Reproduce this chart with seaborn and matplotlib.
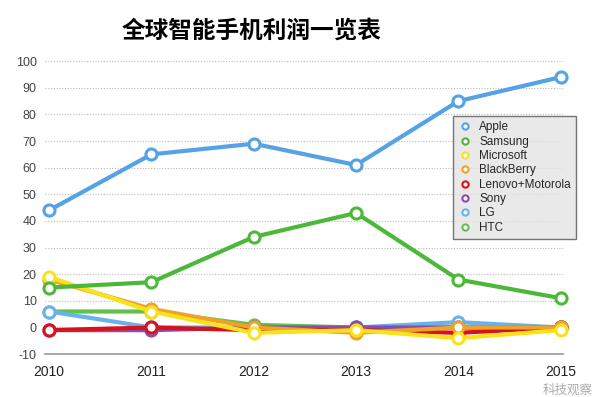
import matplotlib
matplotlib.use("Agg")
import matplotlib.pyplot as plt
import seaborn as sns
import pandas as pd
from matplotlib.lines import Line2D

sns.set_theme(style="white")
plt.rcParams['font.family'] = ['Liberation Sans', 'Noto Sans CJK SC', 'DejaVu Sans']

years = [2010, 2011, 2012, 2013, 2014, 2015]
apple = [44, 65, 69, 61, 85, 94]
samsung = [15, 17, 34, 43, 18, 11]
microsoft = [19, 6, -2, -1, -4, -1]
blackberry = [18, 7, 0, -2, 0, 0]
lenovo = [-1, 0, -1, -1, -2, 0]
sony = [-1, -1, 0, 0, 0, 0]
lg = [6, 0, 0, 0, 2, 0]
htc = [6, 6, 1, 0, 0, 0]

names = ["Apple", "Samsung", "Microsoft", "BlackBerry", "Lenovo+Motorola", "Sony", "LG", "HTC"]
series = [apple, samsung, microsoft, blackberry, lenovo, sony, lg, htc]
colors = ["#55a2e4", "#4cb83a", "#f7e21c", "#f0a226", "#d8121b", "#8c4caf", "#6cb2ea", "#5fc24b"]

rows = []
for n, s in zip(names, series):
    for y, v in zip(years, s):
        rows.append({"year": y, "profit": v, "brand": n})
df = pd.DataFrame(rows)

fig = plt.figure(figsize=(6.0, 3.97), dpi=100)
ax = fig.add_axes([0.075, 0.108, 0.863, 0.738])

draw_order = ["HTC", "LG", "Sony", "Lenovo+Motorola", "BlackBerry", "Microsoft", "Samsung", "Apple"]
cmap = dict(zip(names, colors))
for i, n in enumerate(draw_order):
    d = df[df.brand == n]
    sns.lineplot(data=d, x="year", y="profit", ax=ax, color=cmap[n], linewidth=3,
                 marker="o", markersize=8, markerfacecolor="white",
                 markeredgecolor=cmap[n], markeredgewidth=2.2, clip_on=False,
                 zorder=3 + i, legend=False)

ax.set_xlim(2009.96, 2015.02)
ax.set_ylim(-10, 100)
ax.set_yticks(range(-10, 101, 10))
ax.set_xticks(years)
ax.set_xticklabels([str(y) for y in years], fontsize=10, color="#222222")
ax.set_yticklabels([str(v) for v in range(-10, 101, 10)], fontsize=9, color="#444444")
ax.tick_params(axis="both", length=0, pad=6)
ax.tick_params(axis="x", pad=8)
ax.set_xlabel("")
ax.set_ylabel("")
for v in range(0, 101, 10):
    ax.axhline(v, color="#bbbbbb", linestyle=(0, (1, 1.5)), linewidth=0.8, zorder=1)
for sp in ["top", "right", "left"]:
    ax.spines[sp].set_visible(False)
ax.spines["bottom"].set_color("#999999")
ax.spines["bottom"].set_linewidth(1.2)

handles = [Line2D([0], [0], linestyle="none", marker="o", markersize=4.5,
                  markerfacecolor="white", markeredgecolor=c, markeredgewidth=1.5)
           for c in colors]
leg = ax.legend(handles, names, loc="upper left", bbox_to_anchor=(0.776, 0.833),
                fontsize=8.5, frameon=True, fancybox=False, handletextpad=0.6,
                labelspacing=0.2, borderpad=0.45, handlelength=1.2)
leg.get_frame().set_facecolor("#e4e4e4")
leg.get_frame().set_edgecolor("#555555")
leg.get_frame().set_linewidth(1.0)
leg.set_zorder(20)

fig.text(0.42, 0.922, "全球智能手机利润一览表", ha="center", va="center",
         fontsize=17, fontweight="bold", family=["Noto Sans CJK SC", "DejaVu Sans"], color="#000000")
fig.text(0.987, 0.018, "科技观察", ha="right", va="center", fontsize=9,
         family=["Noto Sans CJK SC", "DejaVu Sans"], color="#aaaaaa")

fig.savefig("out.png", dpi=100)
